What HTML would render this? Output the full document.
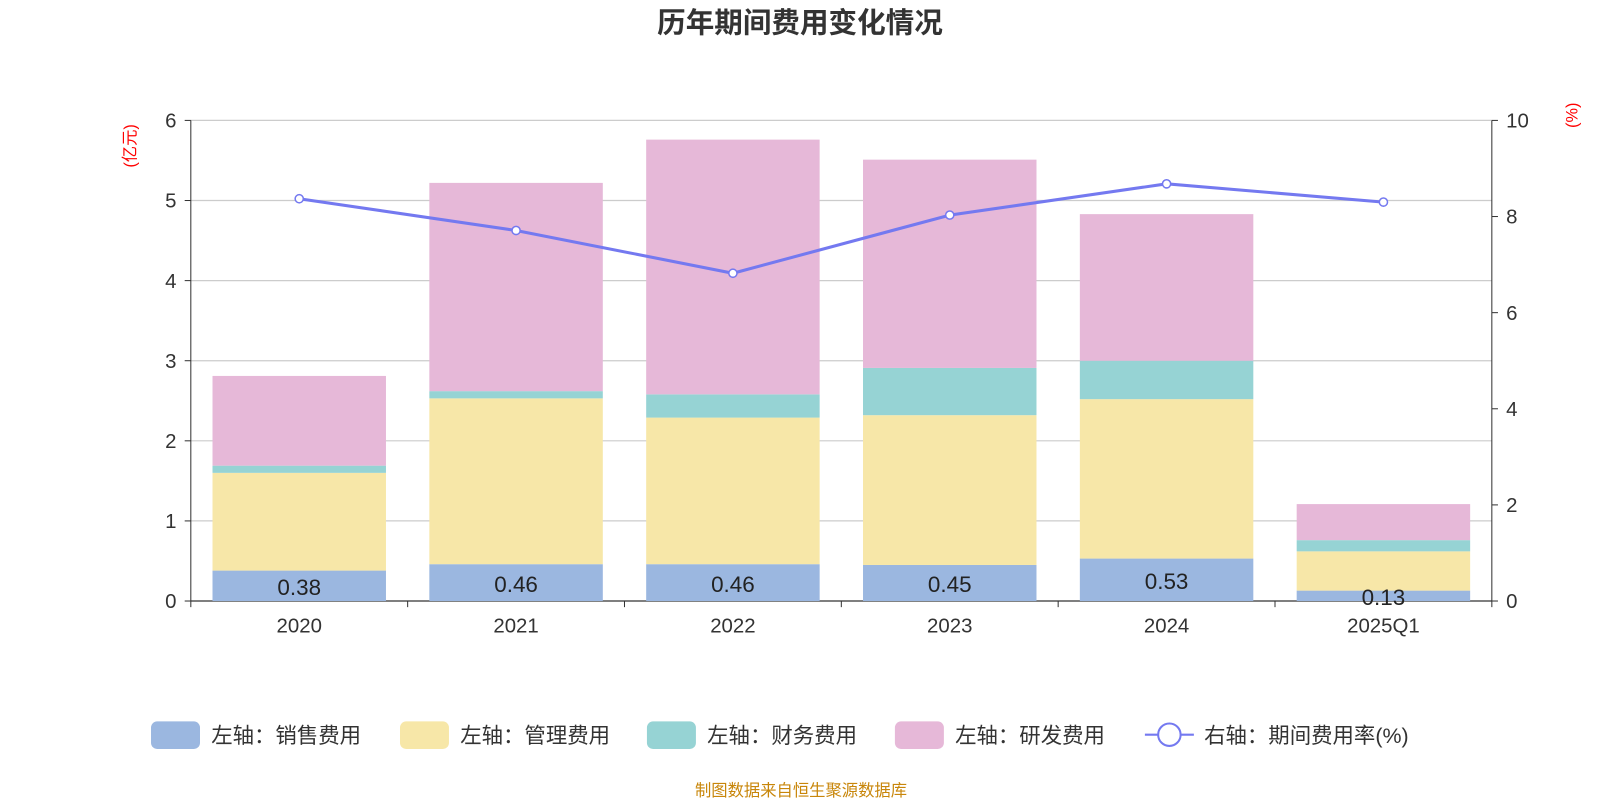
<!DOCTYPE html>
<html><head><meta charset="utf-8"><style>
body{margin:0;background:#fff;}
svg{display:block;font-family:"Liberation Sans","Noto Sans CJK SC",sans-serif;}
</style></head><body>
<svg id="chart" width="1600" height="800" viewBox="0 0 1568 784"></svg>
<script>
const categories=["2020","2021","2022","2023","2024","2025Q1"];
const salesValues=[0.38,0.46,0.46,0.45,0.53,0.13];
const mgmtValues=[1.22,2.07,1.83,1.87,1.99,0.49];
const finValues=[0.09,0.09,0.29,0.59,0.48,0.14];
const rdValues=[1.12,2.60,3.18,2.60,1.83,0.45];
const rateValues=[8.37,7.71,6.82,8.03,8.68,8.30];
const leftTicks=[0,1,2,3,4,5,6];
const rightTicks=[0,2,4,6,8,10];
const salesLabels=["0.38","0.46","0.46","0.45","0.53","0.13"];

const NS="http://www.w3.org/2000/svg";
const svg=document.getElementById('chart');
const X0=187,X1=1462,Y0=589,Y1=118;
const band=(X1-X0)/categories.length;
const yL=v=>Y0-(v/6)*(Y0-Y1);
const yR=v=>Y0-(v/10)*(Y0-Y1);
const xC=i=>X0+band*(i+0.5);
function el(tag,attrs,parent){const e=document.createElementNS(NS,tag);for(const k in attrs)e.setAttribute(k,attrs[k]);(parent||svg).appendChild(e);return e;}
function txt(s,attrs){const t=el('text',attrs);t.textContent=s;return t;}

let t=txt("历年期间费用变化情况",{x:784,y:32,'text-anchor':'middle','font-size':28,'font-weight':'bold',fill:'#333'});


leftTicks.forEach(v=>{
  const g=el('line',{x1:X0,x2:X1,y1:yL(v),y2:yL(v),stroke:v===0?'#333':'#ccc','stroke-width':1.2});
  
  el('line',{x1:X0-6,x2:X0,y1:yL(v),y2:yL(v),stroke:'#333'});
  const l=txt(String(v),{x:X0-14,y:yL(v)+7,'text-anchor':'end','font-size':20,fill:'#333'});
  
});
rightTicks.forEach(v=>{
  el('line',{x1:X1,x2:X1+6,y1:yR(v),y2:yR(v),stroke:'#333'});
  const l=txt(String(v),{x:X1+14,y:yR(v)+7,'font-size':20,fill:'#333'});
  
});
el('line',{x1:X0,x2:X0,y1:Y1,y2:Y0,stroke:'#333'});
el('line',{x1:X1,x2:X1,y1:Y1,y2:Y0,stroke:'#333'});
for(let i=0;i<=categories.length;i++)el('line',{x1:X0+band*i,x2:X0+band*i,y1:Y0,y2:Y0+6,stroke:'#333'});
categories.forEach((c,i)=>{
  const l=txt(c,{x:xC(i),y:620,'text-anchor':'middle','font-size':20,fill:'#333'});
  
});
let u=txt("(亿元)",{x:0,y:0,'font-size':16,fill:'red','text-anchor':'middle',transform:'translate(133,143) rotate(-90)'});

u=txt("(%)",{x:0,y:0,'font-size':16,fill:'red','text-anchor':'middle',transform:'translate(1546,113) rotate(-90)'});


const series=[[salesValues,'#9bb7e0','sales'],[mgmtValues,'#f7e7a8','mgmt'],[finValues,'#96d3d4','finance'],[rdValues,'#e6b8d8','rd']];
const bw=band*0.8;
categories.forEach((c,i)=>{
  let acc=0;
  series.forEach(([vals,col,nm])=>{
    const r=el('rect',{x:xC(i)-bw/2,y:yL(acc+vals[i]),width:bw,height:yL(acc)-yL(acc+vals[i]),fill:col});
    
    acc+=vals[i];
  });
  const l=txt(salesLabels[i],{x:xC(i),y:yL(salesValues[i]/2)+9,'text-anchor':'middle','font-size':22,fill:'#222'});
  
});
const pl=el('polyline',{points:rateValues.map((v,i)=>xC(i)+','+yR(v)).join(' '),fill:'none',stroke:'#7479f0','stroke-width':3});

rateValues.forEach((v,i)=>{
  const p=el('circle',{cx:xC(i),cy:yR(v),r:4,fill:'#fff',stroke:'#7479f0','stroke-width':1.5});
  
});

const legend=[[148,'#9bb7e0','左轴：销售费用'],[392,'#f7e7a8','左轴：管理费用'],[634,'#96d3d4','左轴：财务费用'],[877,'#e6b8d8','左轴：研发费用']];
legend.forEach(([x,col,s])=>{
  const r=el('rect',{x:x,y:707,width:48,height:27,rx:6,fill:col});
  
  const l=txt(s,{x:x+59,y:728,'font-size':21,fill:'#333'});
  
});
el('line',{x1:1122,x2:1170,y1:720,y2:720,stroke:'#7479f0','stroke-width':2});
el('circle',{cx:1146,cy:720,r:11,fill:'#fff',stroke:'#7479f0','stroke-width':2});
let ll=txt("右轴：期间费用率(%)",{x:1180,y:728,'font-size':21,fill:'#333'});


let f=txt("制图数据来自恒生聚源数据库",{x:785,y:780,'text-anchor':'middle','font-size':16,fill:'#c8860a'});

</script>
</body></html>
